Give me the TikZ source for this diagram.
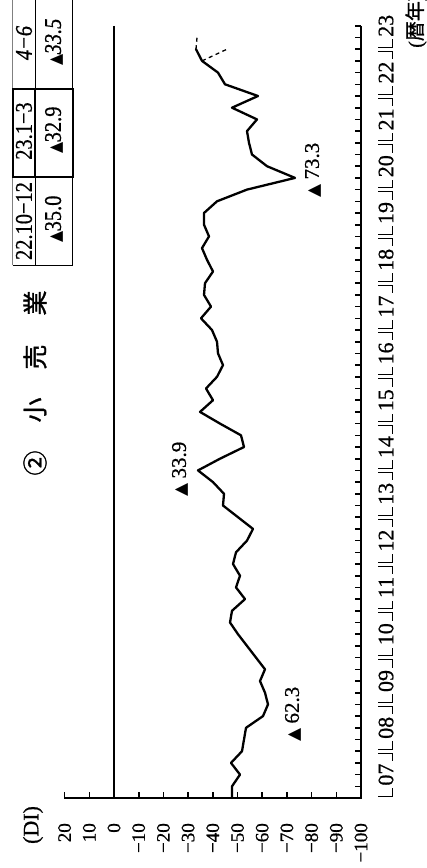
\documentclass[tikz,border=0pt]{standalone}
\usepackage{fontspec}
\usepackage{graphicx}
\setmainfont[FakeBold=0.7]{Liberation Serif}
\newfontfamily\jpfont[FakeBold=1.2]{Noto Sans CJK JP}
\newfontfamily\symfont{DejaVu Sans}
\newcommand{\tri}{{\symfont\fontsize{17}{17}\selectfont ▲}}
\newcommand{\cnd}[1]{\scalebox{0.85}[1]{#1}}
\begin{document}
\begin{tikzpicture}[x=1pt,y=-1pt,
  lbl/.style={rotate=90,inner sep=0pt},
  axisline/.style={line width=2.4pt},
  tickline/.style={line width=1.6pt},
  zeroline/.style={line width=1.8pt},
  dataline/.style={line width=2.3pt,line join=round,line cap=round},
  fcline/.style={line width=1.3pt,dash pattern=on 4pt off 3.5pt},
  thincell/.style={line width=0.9pt},
  thickcell/.style={line width=2pt},
  vallbl/.style={lbl,anchor=east,font=\fontsize{19}{19}\selectfont},
  annot/.style={lbl,anchor=west,font=\fontsize{21}{21}\selectfont},
  tabtxt/.style={lbl,anchor=center,font=\fontsize{24}{24}\selectfont},
  yrlbl/.style={lbl,anchor=center,font=\fontsize{22}{22}\selectfont},
  brk/.style={line width=1pt}]
\useasboundingbox (0,0) rectangle (426,868);

% ---- table ----
\draw[thincell,gray] (12.7,-3) -- (12.7,265);
\draw[thincell] (35,-3) -- (35,265);
\draw[thincell] (72.7,-3) -- (72.7,265);
\draw[thincell] (12.7,265) -- (72.7,265);
\draw[thickcell] (12.7,89) rectangle (72.7,177);
\draw[thickcell] (35,89) -- (35,177);
\node[tabtxt] (h1) at (24,43) {\cnd{\itshape 4−6}};
\node[tabtxt] (v1) at (54,42) {\cnd{\tri\itshape 33.5}};
\node[tabtxt] (h2) at (24,131) {\cnd{23.1−3}};
\node[tabtxt] (v2) at (54,130) {\cnd{\tri 32.9}};
\node[tabtxt] (h3) at (24,221) {\cnd{22.10−12}};
\node[tabtxt] (v3) at (54,219) {\cnd{\tri 35.0}};

% ---- title ----
\tikzset{ttl/.style={lbl,font=\jpfont\fontsize{25}{25}\selectfont}}
\node[ttl] (t0) at (35,463) {②};
\node[ttl] (t1) at (35,410) {小};
\node[ttl] (t2) at (35,357) {売};
\node[ttl] (t3) at (35,303) {業};

% ---- (DI) and value labels ----
\node[lbl,font=\fontsize{22}{22}\selectfont] (di) at (33,825) {(DI)};
\foreach \v/\t in {20/20,10/10,0/0,-10/−10,-20/−20,-30/−30,-40/−40,-50/−50,-60/−60,-70/−70,-80/−80,-90/−90,-100/−100}
  \node[vallbl] at ({114-2.47*\v},823) {\t};

% ---- zero line ----
\draw[zeroline] (114,25.8) -- (114,798);

% ---- value axis ----
\draw[axisline] (64,798) -- (362,798);
\foreach \v in {20,10,...,-100}
  \draw[tickline] ({114-2.47*\v},798) -- ({114-2.47*\v},792);

% ---- time axis ----
\draw[axisline] (361,25.8) -- (361,799);
\foreach \i in {0,...,66}
  \draw[tickline] (355,{798-11.7*\i}) -- (361,{798-11.7*\i});

% ---- year labels ----
\foreach \k/\yy in {0/07,1/08,2/09,3/10,4/11,5/12,6/13,7/14,8/15,9/16,10/17,11/18,12/19,13/20,14/21,15/22,16/23}{
  \pgfmathsetmacro{\yb}{798-46.8*\k}
  \pgfmathsetmacro{\yt}{\yb-46.8}
  \node[yrlbl] at (386,{\yb-23.4}) {\yy};
  \draw[brk] (378,{\yb-2}) -- (392,{\yb-2}) -- (392,{\yb-10});
  \ifnum\k<16
    \draw[brk] (378,{\yt+2}) -- (392,{\yt+2}) -- (392,{\yt+10});
  \fi
}
\node[lbl,anchor=west,font=\fontsize{20}{20}\selectfont] (cal) at (416,48) {(\jpfont 暦年\rmfamily)};

% ---- data ----
\draw[dataline] (232,798) \foreach \v [count=\i] in {232,240,231,242,244,246,263,268,265,260,265,256,247,238,230,232,245,236,240,233,236,247,253,238,223,224,213,198,220,244,241,220,200,213,206,217,223,218,217,212,201,211,204,205,213,207,202,209,204,204,217,247,295,267,252,249,247,257,232,258,225,218,202,196} { -- (\v,{798-11.7*\i}) };
\draw[fcline] (196,49.2) -- (197,37.5);
\draw[fcline] (202,60.9) -- (227,49.2);

% ---- annotations ----
\node[annot] (a1) at (293,742) {\tri\ 62.3};
\node[annot] (a2) at (180,497) {\tri\ 33.9};
\node[annot] (a3) at (313,198) {\tri\ 73.3};
\end{tikzpicture}
\end{document}
